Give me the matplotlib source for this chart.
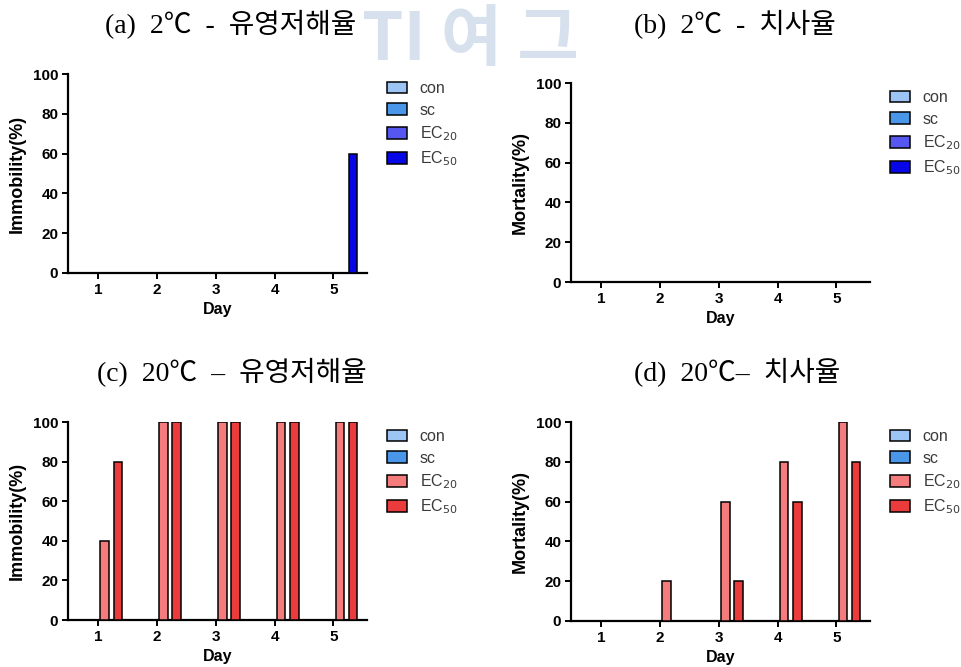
import numpy as np
import matplotlib
matplotlib.use("Agg")
import matplotlib.pyplot as plt

plt.rcParams['font.family'] = ['Liberation Sans', 'Noto Sans CJK KR', 'DejaVu Sans']

# ---- data -------------------------------------------------------------
days = [1, 2, 3, 4, 5]
groups = ["con", "sc", "EC$_{20}$", "EC$_{50}$"]

# 2 degC
immob_2_con = [0, 0, 0, 0, 0]
immob_2_sc = [0, 0, 0, 0, 0]
immob_2_ec20 = [0, 0, 0, 0, 0]
immob_2_ec50 = [0, 0, 0, 0, 60]

mort_2_con = [0, 0, 0, 0, 0]
mort_2_sc = [0, 0, 0, 0, 0]
mort_2_ec20 = [0, 0, 0, 0, 0]
mort_2_ec50 = [0, 0, 0, 0, 0]

# 20 degC
immob_20_con = [0, 0, 0, 0, 0]
immob_20_sc = [0, 0, 0, 0, 0]
immob_20_ec20 = [40, 100, 100, 100, 100]
immob_20_ec50 = [80, 100, 100, 100, 100]

mort_20_con = [0, 0, 0, 0, 0]
mort_20_sc = [0, 0, 0, 0, 0]
mort_20_ec20 = [0, 20, 60, 80, 100]
mort_20_ec50 = [0, 0, 20, 60, 80]

titles = ["(a)  2℃  -  유영저해율", "(b)  2℃  -  치사율",
          "(c)  20℃  –  유영저해율", "(d)  20℃–  치사율"]
ylabels = ["Immobility(%)", "Mortality(%)", "Immobility(%)", "Mortality(%)"]
yticks = [0, 20, 40, 60, 80, 100]

blue_cols = ["#9cc4f4", "#4a97ea", "#5656f0", "#0606e6"]
red_cols = ["#9cc4f4", "#4a97ea", "#f47c7c", "#ea3c3c"]

panels = [
    ([immob_2_con, immob_2_sc, immob_2_ec20, immob_2_ec50], blue_cols),
    ([mort_2_con, mort_2_sc, mort_2_ec20, mort_2_ec50], blue_cols),
    ([immob_20_con, immob_20_sc, immob_20_ec20, immob_20_ec50], red_cols),
    ([mort_20_con, mort_20_sc, mort_20_ec20, mort_20_ec50], red_cols),
]

W, H = 962, 667
fig = plt.figure(figsize=(W / 100, H / 100), dpi=100)
fig.patch.set_facecolor("white")

def px_rect(l, t, r, b):
    return [l / W, 1 - b / H, (r - l) / W, (b - t) / H]

# faint watermark along the top edge, between the two upper titles
fig.text(362 / W, 1 - 60 / H, "TI 여 그", fontsize=48, fontweight="bold",
         color="#d7e1ee", ha="left", va="baseline",
         family=["Noto Sans CJK KR"], zorder=0)

axes_boxes = [
    px_rect(68, 74, 367, 273),
    px_rect(571, 83, 870, 282),
    px_rect(68, 422, 367, 620),
    px_rect(571, 422, 870, 621),
]
title_pos = [(231, 25), (735, 25), (232, 373), (737, 373)]

step = 0.224
width = 0.145
offsets = (np.arange(4) - 1.5) * step
x = np.array(days, dtype=float)

for i, (box, (series, cols)) in enumerate(zip(axes_boxes, panels)):
    ax = fig.add_axes(box, zorder=2)
    ax.patch.set_alpha(0)
    for j, vals in enumerate(series):
        ax.bar(x + offsets[j], vals, width=width, color=cols[j],
               edgecolor="black", linewidth=1.1, label=groups[j], zorder=3)
    ax.set_xlim(0.49, 5.57)
    ax.set_ylim(0, 100)
    ax.set_xticks(days)
    ax.set_yticks(yticks)
    for s in ["top", "right"]:
        ax.spines[s].set_visible(False)
    for s in ["left", "bottom"]:
        ax.spines[s].set_linewidth(1.6)
    ax.tick_params(axis="both", direction="out", width=1.4, length=4,
                   labelsize=11, pad=3)
    for lab in ax.get_xticklabels() + ax.get_yticklabels():
        lab.set_fontweight("bold")
    ax.set_xlabel("Day", fontsize=11.5, fontweight="bold", labelpad=4)
    ax.set_ylabel(ylabels[i], fontsize=13, fontweight="bold", labelpad=5)
    leg = ax.legend(loc="upper left", bbox_to_anchor=(1.067, 0.965),
                    frameon=False, fontsize=11.5, borderaxespad=0,
                    borderpad=0, handlelength=1.25, handleheight=0.75,
                    handletextpad=0.8, labelspacing=0.42)
    for t in leg.get_texts():
        t.set_color("#3a3a3a")

    tx, ty = title_pos[i]
    fig.text(tx / W, 1 - ty / H, titles[i], fontsize=20, ha="center",
             va="center", fontweight="medium",
             family=["Liberation Serif", "Noto Sans CJK KR"], zorder=5)

fig.savefig("out.png", dpi=100, facecolor="white")
